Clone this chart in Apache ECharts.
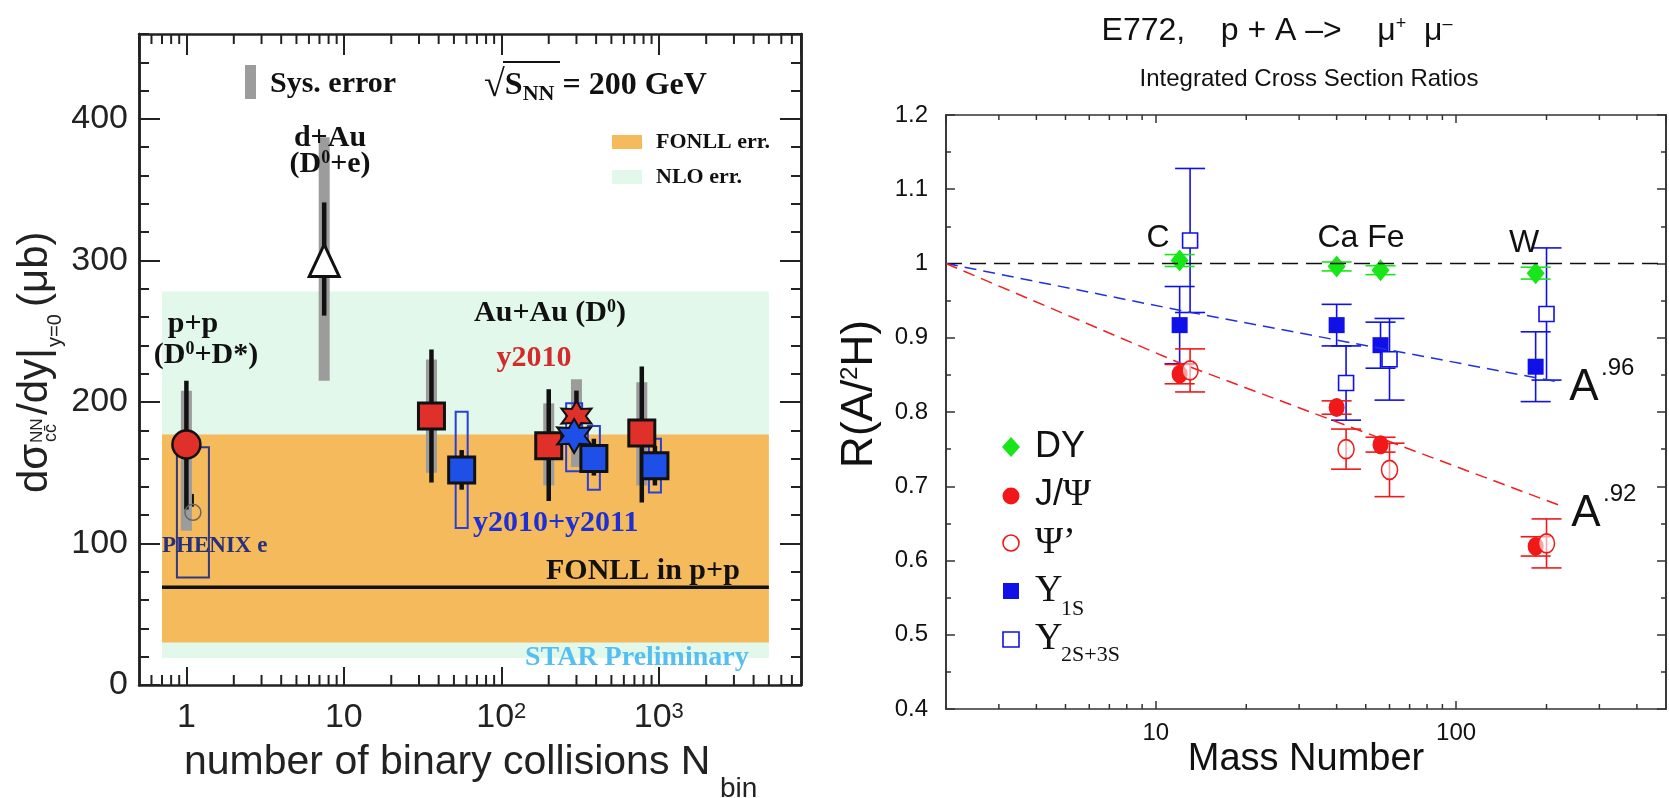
<!DOCTYPE html>
<html>
<head>
<meta charset="utf-8">
<title>Charm cross section vs Nbin / E772 nuclear ratios</title>
<script src="https://cdn.jsdelivr.net/npm/echarts@6.0.0/dist/echarts.min.js"></script>
<style>
  html, body { margin: 0; padding: 0; background: #fff; }
  #chart { width: 1669px; height: 798px; }
</style>
</head>
<body>
<div id="chart"></div>
<script>
// ---------- left panel: d sigma(cc)/dy vs number of binary collisions ----------
const bandNbin = [0.7, 5000];
const nloBand = [19, 278];
const fonllBand = [30, 177];
const fonllPP = [69, 69];

const ppNbin = [1];
const ppXsec = [170];
const ppStat = [[124, 215]];
const ppSys = [[109, 208]];

const phenixNbin = [1.1];
const phenixXsec = [122];
const phenixStat = [[126, 135]];
const phenixBox = [[76, 168]];

const dauNbin = [7.5];
const dauXsec = [300];
const dauStat = [[261, 341]];
const dauSys = [[215, 387]];

const y10Nbin = [36, 200, 780];
const y10Xsec = [190, 169, 178];
const y10Stat = [[143, 237], [130, 209], [129, 225]];
const y10Sys = [[150, 230], [141, 199], [141, 214]];

const y10StarNbin = [300];
const y10StarXsec = [190];
const y10StarStat = [[171, 208]];
const y10StarSys = [[154, 216]];

const y11StarNbin = [290];
const y11StarXsec = [176];
const y11StarBox = [[151, 199]];

const y11Nbin = [56, 387, 945];
const y11Xsec = [152, 160, 155];
const y11Stat = [[138, 166], [148, 174], [141, 169]];
const y11Box = [[111, 193], [138, 183], [136, 174]];

const leftMinorX = [0.6, 0.7, 0.8, 0.9, 2, 3, 4, 5, 6, 7, 8, 9, 20, 30, 40, 50, 60, 70, 80, 90,
  200, 300, 400, 500, 600, 700, 800, 900, 2000, 3000, 4000, 5000, 6000, 7000];

// ---------- right panel: E772 integrated cross section ratios ----------
const massA = [12, 40, 56, 184];
const massShifted = [13, 43, 60, 200];
const dyR = [1.004, 0.996, 0.991, 0.987];
const dyErr = [0.008, 0.006, 0.006, 0.008];
const jpsiR = [0.851, 0.806, 0.756, 0.619];
const jpsiErr = [0.013, 0.009, 0.010, 0.013];
const psiPR = [0.856, 0.750, 0.722, 0.623];
const psiPErr = [0.029, 0.027, 0.036, 0.033];
const ups1R = [0.917, 0.917, 0.890, 0.861];
const ups1Err = [0.052, 0.028, 0.031, 0.047];
const ups23R = [1.031, 0.839, 0.871, 0.932];
const ups23Err = [0.097, 0.050, 0.055, 0.089];

const unityA = [2, 500];
const unityR = [1, 1];
const fitA = [2, 12, 222];
const fit96 = [1, 0.937, 0.84];
const fit92 = [1, 0.866, 0.674];

const rightMinorX = [3, 4, 5, 6, 7, 8, 9, 20, 30, 40, 50, 60, 70, 80, 90, 200, 300, 400];

const SANS = '"Liberation Sans", Arial, sans-serif';
const SERIF = '"Liberation Serif", "Times New Roman", serif';
const INK = '#222';
const RED = '#f01818';
const BLUE = '#1010e8';
const GREEN = '#19e619';
const LRED = '#e0302a';
const LBLUE = '#1e4fe6';

const pts = (xs, ys) => xs.map((x, i) => [x, ys[i]]);
const ranges = (xs, rs) => xs.map((x, i) => [x, rs[i][0], rs[i][1]]);
const errs = (xs, ys, es) => xs.map((x, i) => [x, ys[i], es[i]]);

function starPath(n, rOut, rIn) {
  let d = '';
  for (let k = 0; k < 2 * n; k++) {
    const r = k % 2 ? rIn : rOut;
    const a = -Math.PI / 2 + k * Math.PI / n;
    d += (k ? 'L' : 'M') + (50 + r * Math.cos(a)).toFixed(2) + ' ' + (50 + r * Math.sin(a)).toFixed(2);
  }
  return 'path://' + d + 'Z';
}
const STAR = starPath(6, 50, 27);

function band(params, api) {
  const a = api.coord([api.value(0), api.value(3)]);
  const b = api.coord([api.value(1), api.value(2)]);
  return { type: 'rect', shape: { x: a[0], y: a[1], width: b[0] - a[0], height: b[1] - a[1] },
    style: { fill: api.visual('color') } };
}

function vbar(width, style) {
  return (params, api) => {
    const x = api.value(0);
    const a = api.coord([x, api.value(2)]);
    const b = api.coord([x, api.value(1)]);
    return { type: 'rect', shape: { x: a[0] - width / 2, y: a[1], width: width, height: b[1] - a[1] },
      style: Object.assign({}, style) };
  };
}

function errBar(cap, color) {
  return (params, api) => {
    const x = api.value(0), v = api.value(1), e = api.value(2);
    const t = api.coord([x, v + e]), b = api.coord([x, v - e]);
    const st = () => ({ stroke: color, lineWidth: 1.6 });
    return { type: 'group', children: [
      { type: 'line', shape: { x1: t[0], y1: t[1], x2: b[0], y2: b[1] }, style: st() },
      { type: 'line', shape: { x1: t[0] - cap / 2, y1: t[1], x2: t[0] + cap / 2, y2: t[1] }, style: st() },
      { type: 'line', shape: { x1: b[0] - cap / 2, y1: b[1], x2: b[0] + cap / 2, y2: b[1] }, style: st() }
    ] };
  };
}

function minorTicks(yRef, len, width, color) {
  return (params, api) => {
    const cs = params.coordSys;
    const x = api.coord([api.value(0), yRef])[0];
    const st = () => ({ stroke: color, lineWidth: width });
    return { type: 'group', children: [
      { type: 'line', shape: { x1: x, y1: cs.y + cs.height, x2: x, y2: cs.y + cs.height - len }, style: st() },
      { type: 'line', shape: { x1: x, y1: cs.y, x2: x, y2: cs.y + len }, style: st() }
    ] };
  };
}

function axisBase(color, lineWidth, tickLen, tickWidth) {
  return {
    axisLine: { show: true, onZero: false, lineStyle: { color: color, width: lineWidth } },
    axisTick: { show: true, inside: true, length: tickLen, lineStyle: { color: color, width: tickWidth } },
    splitLine: { show: false },
    axisLabel: { show: false }
  };
}

const L = { xAxisIndex: 0, yAxisIndex: 0 };
const R = { xAxisIndex: 2, yAxisIndex: 4 };

const leftXLabel = {
  show: true, margin: 16, fontSize: 34, fontFamily: SANS, color: INK,
  showMinLabel: false, showMaxLabel: false,
  formatter: v => {
    const e = Math.round(Math.log10(v));
    return e === 0 ? '1' : e === 1 ? '10' : '10{sup|' + e + '}';
  },
  rich: { sup: { fontSize: 22, fontFamily: SANS, color: INK, verticalAlign: 'top', lineHeight: 12 } }
};

const option = {
  animation: false,
  backgroundColor: '#fff',
  grid: [
    { left: 139, top: 34, width: 662, height: 651, outerBoundsMode: 'none' },
    { left: 946, top: 115, width: 720, height: 594, outerBoundsMode: 'none' }
  ],
  xAxis: [
    Object.assign(axisBase(INK, 2.5, 18, 2), { type: 'log', gridIndex: 0, position: 'bottom', min: 0.5, max: 8000, axisLabel: leftXLabel }),
    Object.assign(axisBase(INK, 2.5, 21, 2), { type: 'log', gridIndex: 0, position: 'top', min: 0.5, max: 8000 }),
    Object.assign(axisBase('#333', 1.6, 8, 1.5), { type: 'log', gridIndex: 1, position: 'bottom', min: 2, max: 500,
      axisLabel: { show: true, margin: 12, fontSize: 24, fontFamily: SANS, color: '#111', showMinLabel: false, showMaxLabel: false,
        formatter: v => String(Math.round(v)) } }),
    Object.assign(axisBase('#333', 1.6, 8, 1.5), { type: 'log', gridIndex: 1, position: 'top', min: 2, max: 500 })
  ],
  yAxis: [
    Object.assign(axisBase(INK, 2.5, 21, 2), { type: 'value', gridIndex: 0, position: 'left', min: 0, max: 460, interval: 100,
      axisLabel: { show: true, margin: 11, fontSize: 34, fontFamily: SANS, color: INK, showMaxLabel: false } }),
    Object.assign(axisBase(INK, 2.5, 10, 2), { type: 'value', gridIndex: 0, position: 'left', min: 0, max: 460, interval: 20 }),
    Object.assign(axisBase(INK, 2.5, 21, 2), { type: 'value', gridIndex: 0, position: 'right', min: 0, max: 460, interval: 100 }),
    Object.assign(axisBase(INK, 2.5, 10, 2), { type: 'value', gridIndex: 0, position: 'right', min: 0, max: 460, interval: 20 }),
    Object.assign(axisBase('#333', 1.6, 9, 1.5), { type: 'value', gridIndex: 1, position: 'left', min: 0.4, max: 1.2, interval: 0.1,
      axisLabel: { show: true, margin: 18, fontSize: 24, fontFamily: SANS, color: '#111' } }),
    Object.assign(axisBase('#333', 1.6, 5, 1.5), { type: 'value', gridIndex: 1, position: 'left', min: 0.4, max: 1.2, interval: 0.05 }),
    Object.assign(axisBase('#333', 1.6, 9, 1.5), { type: 'value', gridIndex: 1, position: 'right', min: 0.4, max: 1.2, interval: 0.1 }),
    Object.assign(axisBase('#333', 1.6, 5, 1.5), { type: 'value', gridIndex: 1, position: 'right', min: 0.4, max: 1.2, interval: 0.05 })
  ],
  series: [
    // ---- left panel ----
    Object.assign({ type: 'custom', name: 'NLO err.', renderItem: band, itemStyle: { color: '#e1f8eb' },
      encode: { x: [0, 1], y: [2, 3] }, data: [[bandNbin[0], bandNbin[1], nloBand[0], nloBand[1]]], silent: true }, L),
    Object.assign({ type: 'custom', name: 'FONLL err.', renderItem: band, itemStyle: { color: '#f4ba5b' },
      encode: { x: [0, 1], y: [2, 3] }, data: [[bandNbin[0], bandNbin[1], fonllBand[0], fonllBand[1]]], silent: true }, L),
    Object.assign({ type: 'line', name: 'FONLL in p+p', data: pts(bandNbin, fonllPP), symbol: 'none',
      lineStyle: { color: '#111', width: 3.5 }, silent: true }, L),
    Object.assign({ type: 'custom', renderItem: minorTicks(0, 10, 2, INK), encode: { x: 0, y: 1 },
      data: leftMinorX.map(v => [v, 0]), silent: true }, L),
    Object.assign({ type: 'custom', name: 'Sys. error', renderItem: vbar(11, { fill: '#9c9c9c' }), encode: { x: 0, y: [1, 2] },
      data: [].concat(ranges(ppNbin, ppSys), ranges(dauNbin, dauSys), ranges(y10Nbin, y10Sys), ranges(y10StarNbin, y10StarSys)), silent: true }, L),
    Object.assign({ type: 'custom', renderItem: vbar(32, { fill: 'transparent', stroke: '#2e3a86', lineWidth: 2 }), encode: { x: 0, y: [1, 2] },
      data: ranges(phenixNbin, phenixBox), silent: true }, L),
    Object.assign({ type: 'custom', renderItem: vbar(12, { fill: 'transparent', stroke: '#2a3fd8', lineWidth: 2 }), encode: { x: 0, y: [1, 2] },
      data: ranges(y11Nbin, y11Box), silent: true }, L),
    Object.assign({ type: 'custom', renderItem: vbar(16, { fill: 'transparent', stroke: '#2a3fd8', lineWidth: 2 }), encode: { x: 0, y: [1, 2] },
      data: ranges(y11StarNbin, y11StarBox), silent: true }, L),
    Object.assign({ type: 'custom', renderItem: vbar(4.5, { fill: '#111' }), encode: { x: 0, y: [1, 2] },
      data: [].concat(ranges(ppNbin, ppStat), ranges(dauNbin, dauStat), ranges(y10Nbin, y10Stat), ranges(y10StarNbin, y10StarStat), ranges(y11Nbin, y11Stat)), silent: true }, L),
    Object.assign({ type: 'custom', renderItem: vbar(2, { fill: '#111' }), encode: { x: 0, y: [1, 2] },
      data: ranges(phenixNbin, phenixStat), silent: true }, L),
    Object.assign({ type: 'scatter', name: 'y2010', symbol: 'rect', symbolSize: 26, data: pts(y10Nbin, y10Xsec),
      itemStyle: { color: LRED, borderColor: '#111', borderWidth: 3, opacity: 1 }, silent: true }, L),
    Object.assign({ type: 'scatter', name: 'y2010 MB', symbol: STAR, symbolSize: 30, data: pts(y10StarNbin, y10StarXsec),
      itemStyle: { color: LRED, borderColor: '#111', borderWidth: 2, opacity: 1 }, silent: true }, L),
    Object.assign({ type: 'scatter', name: 'y2010+y2011 MB', symbol: STAR, symbolSize: 34, data: pts(y11StarNbin, y11StarXsec),
      itemStyle: { color: LBLUE, borderColor: '#111', borderWidth: 2, opacity: 1 }, silent: true }, L),
    Object.assign({ type: 'scatter', name: 'y2010+y2011', symbol: 'rect', symbolSize: 26, data: pts(y11Nbin, y11Xsec),
      itemStyle: { color: LBLUE, borderColor: '#111', borderWidth: 3, opacity: 1 }, silent: true }, L),
    Object.assign({ type: 'scatter', name: 'p+p', symbol: 'circle', symbolSize: 28, data: pts(ppNbin, ppXsec),
      itemStyle: { color: LRED, borderColor: '#111', borderWidth: 2.5, opacity: 1 }, silent: true }, L),
    Object.assign({ type: 'scatter', name: 'PHENIX e', symbol: 'circle', symbolSize: 16, data: pts(phenixNbin, phenixXsec),
      itemStyle: { color: 'transparent', borderColor: '#666', borderWidth: 1.5, opacity: 1 }, silent: true }, L),
    Object.assign({ type: 'scatter', name: 'd+Au', symbol: 'triangle', symbolSize: [30, 32], data: pts(dauNbin, dauXsec),
      itemStyle: { color: '#fff', borderColor: '#111', borderWidth: 3, opacity: 1 }, silent: true }, L),

    // ---- right panel ----
    Object.assign({ type: 'line', data: pts(unityA, unityR), symbol: 'none',
      lineStyle: { color: '#111', width: 1.5, type: [16, 8] }, silent: true }, R),
    Object.assign({ type: 'line', name: 'A^.96', data: pts(fitA, fit96), symbol: 'none',
      lineStyle: { color: '#2030e0', width: 1.5, type: [12, 7] }, silent: true }, R),
    Object.assign({ type: 'line', name: 'A^.92', data: pts(fitA, fit92), symbol: 'none',
      lineStyle: { color: '#f02020', width: 1.5, type: [12, 7] }, silent: true }, R),
    Object.assign({ type: 'custom', renderItem: minorTicks(0.4, 5, 1.5, '#333'), encode: { x: 0, y: 1 },
      data: rightMinorX.map(v => [v, 0.4]), silent: true }, R),
    Object.assign({ type: 'custom', renderItem: errBar(30, BLUE), encode: { x: 0, y: 1 }, data: errs(massA, ups1R, ups1Err), silent: true }, R),
    Object.assign({ type: 'custom', renderItem: errBar(30, BLUE), encode: { x: 0, y: 1 }, data: errs(massShifted, ups23R, ups23Err), silent: true }, R),
    Object.assign({ type: 'custom', renderItem: errBar(30, RED), encode: { x: 0, y: 1 }, data: errs(massA, jpsiR, jpsiErr), silent: true }, R),
    Object.assign({ type: 'custom', renderItem: errBar(30, RED), encode: { x: 0, y: 1 }, data: errs(massShifted, psiPR, psiPErr), silent: true }, R),
    Object.assign({ type: 'custom', renderItem: errBar(30, GREEN), encode: { x: 0, y: 1 }, data: errs(massA, dyR, dyErr), silent: true }, R),
    Object.assign({ type: 'scatter', name: 'Y1S', symbol: 'rect', symbolSize: 16, data: pts(massA, ups1R),
      itemStyle: { color: BLUE, opacity: 1 }, silent: true }, R),
    Object.assign({ type: 'scatter', name: 'Y2S+3S', symbol: 'rect', symbolSize: 15, data: pts(massShifted, ups23R),
      itemStyle: { color: '#fff', borderColor: BLUE, borderWidth: 1.6, opacity: 1 }, silent: true }, R),
    Object.assign({ type: 'scatter', name: 'J/Psi', symbol: 'circle', symbolSize: [16, 19], data: pts(massA, jpsiR),
      itemStyle: { color: RED, opacity: 1 }, silent: true }, R),
    Object.assign({ type: 'scatter', name: "Psi'", symbol: 'circle', symbolSize: [16, 19], data: pts(massShifted, psiPR),
      itemStyle: { color: 'rgba(255,255,255,0.6)', borderColor: RED, borderWidth: 1.6, opacity: 1 }, silent: true }, R),
    Object.assign({ type: 'scatter', name: 'DY', symbol: 'diamond', symbolSize: [18, 22], data: pts(massA, dyR),
      itemStyle: { color: GREEN, opacity: 1 }, silent: true }, R)
  ],
  graphic: { elements: [] }
};

// ---------- annotations ----------
function txt(x, y, text, style, extra) {
  return Object.assign({ type: 'text', x: x, y: y, z: 100, silent: true,
    style: Object.assign({ text: text, fill: INK, fontFamily: SANS, fontSize: 30, align: 'left', verticalAlign: 'middle' }, style) }, extra || {});
}
const bold = (size, color, extra) => Object.assign({ fontFamily: SERIF, fontWeight: 'bold', fontSize: size, fill: color || '#111' }, extra || {});
const supRich = size => ({ s: { fontFamily: SERIF, fontWeight: 'bold', fontSize: size, verticalAlign: 'top', lineHeight: 10, fill: '#111' } });
const rot = (x, y, text, size) => ({ type: 'text', x: x, y: y, style: { text: text, fontSize: size, fontFamily: SANS, fill: INK, verticalAlign: 'middle' } });

const g = option.graphic.elements;
// left panel y title (rotated, reads bottom to top)
g.push({
  type: 'group', x: 45, y: 361, rotation: Math.PI / 2, z: 100, silent: true,
  children: [
    rot(-132, -10, 'dσ', 42),
    rot(-82, -8, 'NN', 17),
    rot(-81, 6, 'cc\u0304', 18),
    rot(-54, -10, '/dy|', 42),
    rot(14, 10, 'y=0', 20),
    rot(54, -10, '(μb)', 42)
  ]
});
// left x title
g.push(txt(184, 763, 'number of binary collisions N', { fontSize: 41 }));
g.push(txt(720, 789, 'bin', { fontSize: 28 }));
// legend-like annotations
g.push({ type: 'rect', z: 100, silent: true, shape: { x: 245, y: 65, width: 11, height: 34 }, style: { fill: '#9c9c9c' } });
g.push(txt(270, 84, 'Sys. error', bold(30)));
g.push(txt(484, 86, '{r|√}S{n|NN} = 200 GeV', bold(32, '#111', {
  rich: { r: { fontFamily: SERIF, fontSize: 38, fill: '#111' },
          n: { fontFamily: SERIF, fontWeight: 'bold', fontSize: 22, verticalAlign: 'bottom', lineHeight: 10, fill: '#111' } } })));
g.push({ type: 'line', z: 100, silent: true, shape: { x1: 503, y1: 62, x2: 560, y2: 62 }, style: { stroke: '#111', lineWidth: 2 } });
g.push({ type: 'rect', z: 100, silent: true, shape: { x: 612, y: 135, width: 30, height: 14 }, style: { fill: '#f4ba5b' } });
g.push(txt(656, 142, 'FONLL err.', bold(22)));
g.push({ type: 'rect', z: 100, silent: true, shape: { x: 612, y: 170, width: 30, height: 14 }, style: { fill: '#e1f8eb' } });
g.push(txt(656, 177, 'NLO err.', bold(22)));
g.push(txt(330, 138, 'd+Au', bold(30, '#111', { align: 'center' })));
g.push(txt(330, 164, '(D{s|0}+e)', bold(30, '#111', { align: 'center', rich: supRich(18) })));
g.push(txt(193, 324, 'p+p', bold(30, '#111', { align: 'center' })));
g.push(txt(206, 355, '(D{s|0}+D*)', bold(30, '#111', { align: 'center', rich: supRich(18) })));
g.push(txt(550, 313, 'Au+Au (D{s|0})', bold(30, '#111', { align: 'center', rich: supRich(18) })));
g.push(txt(534, 358, 'y2010', bold(30, '#d42a2a', { align: 'center' })));
g.push(txt(473, 523, 'y2010+y2011', bold(30, '#1c30d6')));
g.push(txt(162, 546, 'PHENIX e', bold(23, '#27307a')));
g.push(txt(546, 571, 'FONLL in p+p', bold(30)));
g.push(txt(525, 658, 'STAR Preliminary', bold(28, '#56bff0')));

// right panel titles
g.push(txt(1277, 31, 'E772,    p + A –>    μ{s|+}  μ{s|–}', {
  fontSize: 32, align: 'center', fill: '#111',
  rich: { s: { fontFamily: SANS, fontSize: 18, verticalAlign: 'top', lineHeight: 8, fill: '#111' } } }));
g.push(txt(1309, 79, 'Integrated Cross Section Ratios', { fontSize: 24, align: 'center', fill: '#111' }));
g.push(txt(1306, 760, 'Mass Number', { fontSize: 38, align: 'center', fill: '#111' }));
g.push(txt(860, 394, 'R(A/{s|2}H)', {
  fontSize: 44, align: 'center', fill: '#111',
  rich: { s: { fontFamily: SANS, fontSize: 24, verticalAlign: 'top', lineHeight: 10, fill: '#111' } } },
  { rotation: Math.PI / 2 }));
g.push(txt(1158, 238, 'C', { fontSize: 32, align: 'center', fill: '#111' }));
g.push(txt(1361, 238, 'Ca Fe', { fontSize: 32, align: 'center', fill: '#111' }));
g.push(txt(1524, 243, 'W', { fontSize: 32, align: 'center', fill: '#111' }));
g.push(txt(1584, 388, 'A', { fontSize: 44, align: 'center', fill: '#111' }));
g.push(txt(1601, 368, '.96', { fontSize: 24, fill: '#111' }));
g.push(txt(1586, 514, 'A', { fontSize: 44, align: 'center', fill: '#111' }));
g.push(txt(1603, 494, '.92', { fontSize: 24, fill: '#111' }));

// right panel legend
g.push({ type: 'polygon', z: 100, silent: true, shape: { points: [[1011, 437], [1020, 447], [1011, 457], [1002, 447]] }, style: { fill: GREEN } });
g.push({ type: 'circle', z: 100, silent: true, shape: { cx: 1011, cy: 496, r: 8.5 }, style: { fill: RED } });
g.push({ type: 'circle', z: 100, silent: true, shape: { cx: 1011, cy: 543, r: 8 }, style: { fill: 'transparent', stroke: RED, lineWidth: 1.6 } });
g.push({ type: 'rect', z: 100, silent: true, shape: { x: 1003, y: 583, width: 16, height: 16 }, style: { fill: BLUE } });
g.push({ type: 'rect', z: 100, silent: true, shape: { x: 1003, y: 632, width: 16, height: 15 }, style: { fill: 'transparent', stroke: BLUE, lineWidth: 1.6 } });
g.push(txt(1035, 447, 'DY', { fontSize: 36, fill: '#111' }));
g.push(txt(1035, 495, 'J/{g|Ψ}', { fontSize: 36, fill: '#111', rich: { g: { fontFamily: SERIF, fontSize: 38, fill: '#111' } } }));
g.push(txt(1035, 543, 'Ψ’', { fontSize: 38, fontFamily: SERIF, fill: '#111' }));
g.push(txt(1035, 591, 'Y', { fontSize: 38, fontFamily: SERIF, fill: '#111' }));
g.push(txt(1061, 609, '1S', { fontSize: 22, fontFamily: SERIF, fill: '#111' }));
g.push(txt(1035, 639, 'Y', { fontSize: 38, fontFamily: SERIF, fill: '#111' }));
g.push(txt(1061, 655, '2S+3S', { fontSize: 22, fontFamily: SERIF, fill: '#111' }));

const chart = echarts.init(document.getElementById('chart'));
chart.setOption(option);
</script>
</body>
</html>
